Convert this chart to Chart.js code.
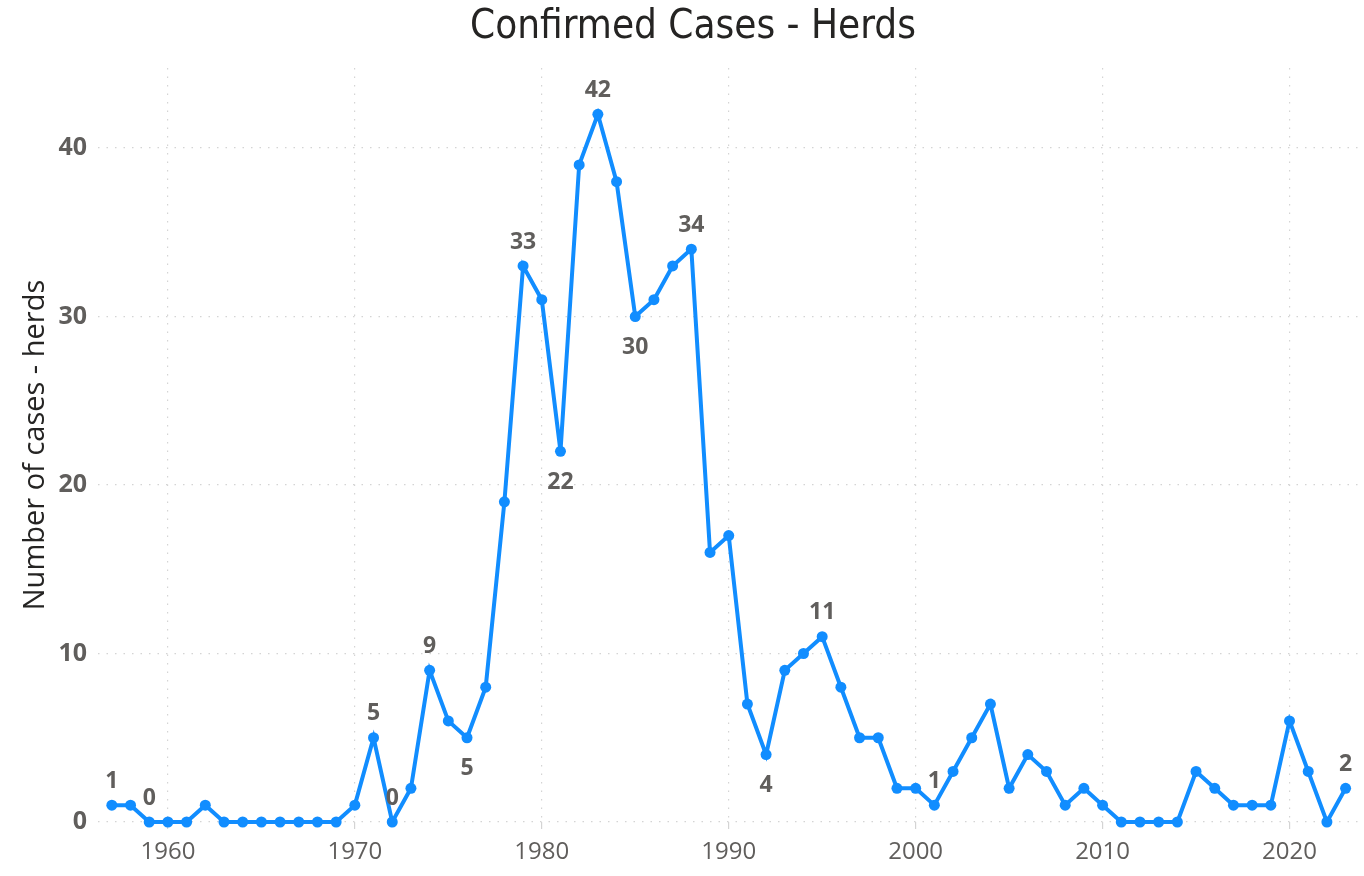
<!DOCTYPE html>
<html>
<head>
<meta charset="utf-8">
<title>Confirmed Cases - Herds</title>
<script src="https://cdn.jsdelivr.net/npm/chart.js@4.4.1/dist/chart.umd.min.js"></script>
<style>
  html, body { margin: 0; padding: 0; background: #ffffff; }
  #wrap { width: 1364px; height: 876px; }
</style>
</head>
<body>
<div id="wrap"><canvas id="herdChart" width="1364" height="876"></canvas></div>
<script>
// years and confirmed herd cases
const years = [
  1957, 1958, 1959, 1960, 1961, 1962, 1963, 1964, 1965, 1966,
  1967, 1968, 1969, 1970, 1971, 1972, 1973, 1974, 1975, 1976,
  1977, 1978, 1979, 1980, 1981, 1982, 1983, 1984, 1985, 1986,
  1987, 1988, 1989, 1990, 1991, 1992, 1993, 1994, 1995, 1996,
  1997, 1998, 1999, 2000, 2001, 2002, 2003, 2004, 2005, 2006,
  2007, 2008, 2009, 2010, 2011, 2012, 2013, 2014, 2015, 2016,
  2017, 2018, 2019, 2020, 2021, 2022, 2023
];
const cases = [
  1, 1, 0, 0, 0, 1, 0, 0, 0, 0,
  0, 0, 0, 1, 5, 0, 2, 9, 6, 5,
  8, 19, 33, 31, 22, 39, 42, 38, 30, 31,
  33, 34, 16, 17, 7, 4, 9, 10, 11, 8,
  5, 5, 2, 2, 1, 3, 5, 7, 2, 4,
  3, 1, 2, 1, 0, 0, 0, 0, 3, 2,
  1, 1, 1, 6, 3, 0, 2
];
const xTicks = [1960, 1970, 1980, 1990, 2000, 2010, 2020];
const yTicks = [0, 10, 20, 30, 40];

// which points carry a value label, and which of those sit under the point
const labelYears = [1957, 1959, 1971, 1972, 1974, 1976, 1979, 1981, 1983, 1985, 1988, 1992, 1995, 2001, 2023];
const labelBelow = [1976, 1981, 1985, 1992];

const blue = '#118DFF';
const grey = '#605E5C';
const gridGrey = '#d4d4d4';

const pointLabels = {
  id: 'pointLabels',
  afterDatasetsDraw(chart) {
    const ctx = chart.ctx;
    const meta = chart.getDatasetMeta(0);
    ctx.save();
    ctx.font = 'bold 23px "Open Sans"';
    ctx.fillStyle = grey;
    ctx.textAlign = 'center';
    ctx.textBaseline = 'middle';
    meta.data.forEach((pt, i) => {
      const yr = years[i];
      if (!labelYears.includes(yr)) return;
      const off = labelBelow.includes(yr) ? 31 : -24;
      ctx.fillText(String(cases[i]), pt.x, pt.y + off);
    });
    ctx.restore();
  }
};

// title is drawn by hand so it can sit a little right of the canvas centre, like the original
const chartTitle = {
  id: 'chartTitle',
  afterDraw(chart) {
    const ctx = chart.ctx;
    ctx.save();
    ctx.font = '40px "DejaVu Sans Condensed", "DejaVu Sans"';
    ctx.fillStyle = '#252423';
    ctx.textAlign = 'center';
    ctx.textBaseline = 'alphabetic';
    ctx.fillText('Confirmed Cases - Herds', 693, 38);
    ctx.restore();
  }
};

const chart = new Chart(document.getElementById('herdChart'), {
  type: 'line',
  data: {
    datasets: [{
      data: years.map((y, i) => ({ x: y, y: cases[i] })),
      borderColor: blue,
      backgroundColor: blue,
      borderWidth: 4,
      pointRadius: 5.5,
      pointBackgroundColor: blue,
      pointBorderWidth: 0,
      tension: 0,
      clip: false
    }]
  },
  options: {
    responsive: false,
    animation: false,
    layout: { padding: { left: 0, right: 4, top: 68, bottom: 0 } },
    plugins: {
      legend: { display: false },
      tooltip: { enabled: false },
      title: { display: false }
    },
    scales: {
      x: {
        type: 'linear',
        min: 1956.26,
        max: 2023.69,
        afterBuildTicks: s => { s.ticks = xTicks.map(v => ({ value: v })); },
        afterFit: s => { s.height = 54; },
        grid: { color: gridGrey, lineWidth: 1.2, drawTicks: true, tickLength: 7 },
        border: { display: false, dash: [1.5, 7] },
        ticks: {
          color: grey,
          font: { family: '"Open Sans"', size: 24 },
          padding: 9,
          maxRotation: 0,
          callback: v => String(v)
        }
      },
      y: {
        min: 0,
        max: 44.75,
        afterBuildTicks: s => { s.ticks = yTicks.map(v => ({ value: v })); },
        afterFit: s => { s.width = 98; },
        grid: { color: gridGrey, lineWidth: 1.2, drawTicks: false },
        border: { display: false, dash: [1.5, 7] },
        ticks: {
          color: grey,
          font: { family: '"Open Sans"', size: 25, weight: 'bold' },
          padding: 11
        },
        title: {
          display: true,
          text: 'Number of cases - herds',
          color: '#252423',
          font: { family: '"Open Sans"', size: 29, lineHeight: 1.2 },
          padding: { top: 18, bottom: 0 }
        }
      }
    }
  },
  plugins: [pointLabels, chartTitle]
});
</script>
</body>
</html>
